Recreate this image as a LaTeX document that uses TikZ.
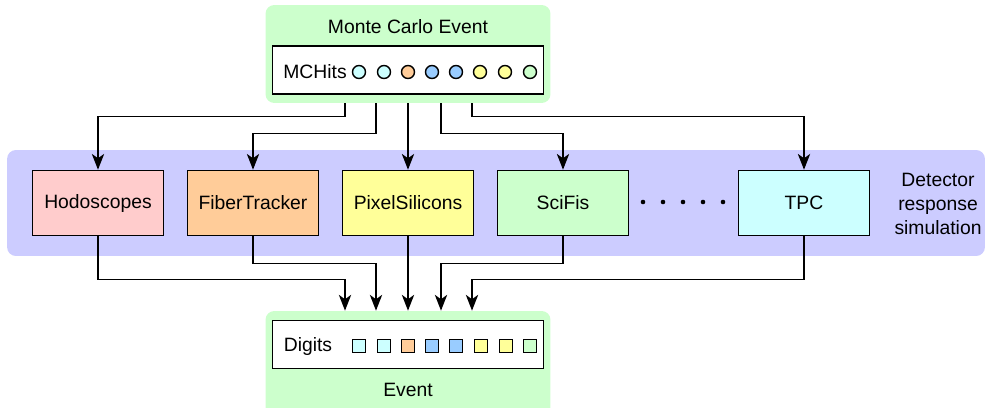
\documentclass[tikz,border=0pt]{standalone}
\usepackage{fontspec}
\setmainfont{Liberation Sans}
\usetikzlibrary{arrows.meta}
\usetikzlibrary{calc}

\definecolor{evgreen}{HTML}{CCFFCC}
\definecolor{band}{HTML}{CCCCFF}
\definecolor{hodo}{HTML}{FFCCCC}
\definecolor{fiber}{HTML}{FFCC99}
\definecolor{pixel}{HTML}{FFFF99}
\definecolor{scifi}{HTML}{CCFFCC}
\definecolor{tpc}{HTML}{CCFFFF}
\definecolor{other}{HTML}{99CCFF}

\begin{document}
\begin{tikzpicture}[x=0.02cm, y=-0.02cm,
  font=\fontsize{11}{13.6}\selectfont,
  det/.style={draw, line width=0.9pt, minimum width=2.62cm, minimum height=1.3cm, inner sep=0pt},
  holder/.style={draw, fill=white, line width=0.9pt, minimum width=5.42cm, minimum height=0.96cm},
  hit/.style={draw, circle, line width=0.8pt, minimum size=7.4pt, inner sep=0pt},
  digit/.style={draw, rectangle, line width=0.8pt, minimum size=7.4pt, inner sep=0pt},
  link/.style={line width=0.9pt, -{Stealth[length=9pt, width=7pt, inset=2.5pt]}}]
  \clip (0,0) rectangle (987,407);

  % Monte Carlo event
  \node[fill=evgreen, rounded corners=5pt, minimum width=5.7cm, minimum height=1.96cm] (MCEvent) at (408,54) {};
  \node (MCTitle) at (408,27) {Monte Carlo Event};
  \node[holder] (MCHits) at (408,70) {};
  \node (MCLabel) at (315,72) {MCHits};
  \node[hit, fill=tpc]   (hit1) at (359,72) {};
  \node[hit, fill=tpc]   (hit2) at (384,72) {};
  \node[hit, fill=fiber] (hit3) at (408,72) {};
  \node[hit, fill=other] (hit4) at (432,72) {};
  \node[hit, fill=other] (hit5) at (456,72) {};
  \node[hit, fill=pixel] (hit6) at (480,72) {};
  \node[hit, fill=pixel] (hit7) at (505,72) {};
  \node[hit, fill=scifi] (hit8) at (530,72) {};

  % detector response
  \node[fill=band, rounded corners=5pt, minimum width=19.56cm, minimum height=2.12cm] (Response) at (496,203) {};
  \node[det, fill=hodo]  (Hodoscopes)    at (98,203)  {Hodoscopes};
  \node[det, fill=fiber] (FiberTracker)  at (253,203) {FiberTracker};
  \node[det, fill=pixel] (PixelSilicons) at (408,203) {PixelSilicons};
  \node[det, fill=scifi] (SciFis)        at (563,203) {SciFis};
  \node[det, fill=tpc]   (TPC)           at (804,203) {TPC};
  \node[align=center] (ResponseLabel) at (938,204) {Detector\\response\\simulation};
  \fill (643,202) circle (1.3pt) (663,202) circle (1.3pt) (683,202) circle (1.3pt)
        (703,202) circle (1.3pt) (723,202) circle (1.3pt);

  % reconstructed event
  \node[fill=evgreen, rounded corners=5pt, minimum width=5.7cm, minimum height=2.2cm] (Event) at (408,366) {};
  \node[holder] (Digits) at (408,344.5) {};
  \node (DigitLabel) at (308,346) {Digits};
  \node[digit, fill=tpc]   (digit1) at (359,346) {};
  \node[digit, fill=tpc]   (digit2) at (384,346) {};
  \node[digit, fill=fiber] (digit3) at (408,346) {};
  \node[digit, fill=other] (digit4) at (432,346) {};
  \node[digit, fill=other] (digit5) at (456,346) {};
  \node[digit, fill=pixel] (digit6) at (481,346) {};
  \node[digit, fill=pixel] (digit7) at (506,346) {};
  \node[digit, fill=scifi] (digit8) at (530,346) {};
  \node (EventTitle) at (408,390) {Event};

  % hits to detectors
  \draw[link] ($(MCEvent.south)+(-63,0)$) -- ++(0,13) -| (Hodoscopes.north);
  \draw[link] ($(MCEvent.south)+(-32,0)$) -- ++(0,30) -| (FiberTracker.north);
  \draw[link] (MCEvent.south) -- (PixelSilicons.north);
  \draw[link] ($(MCEvent.south)+(33,0)$) -- ++(0,30) -| (SciFis.north);
  \draw[link] ($(MCEvent.south)+(64,0)$) -- ++(0,13) -| (TPC.north);

  % detectors to digits
  \draw[link] (Hodoscopes.south) -- ++(0,43) -| ($(Event.north)+(-63,0)$);
  \draw[link] (FiberTracker.south) -- ++(0,27) -| ($(Event.north)+(-32,0)$);
  \draw[link] (PixelSilicons.south) -- (Event.north);
  \draw[link] (SciFis.south) -- ++(0,27) -| ($(Event.north)+(33,0)$);
  \draw[link] (TPC.south) -- ++(0,43) -| ($(Event.north)+(64,0)$);
\end{tikzpicture}
\end{document}
